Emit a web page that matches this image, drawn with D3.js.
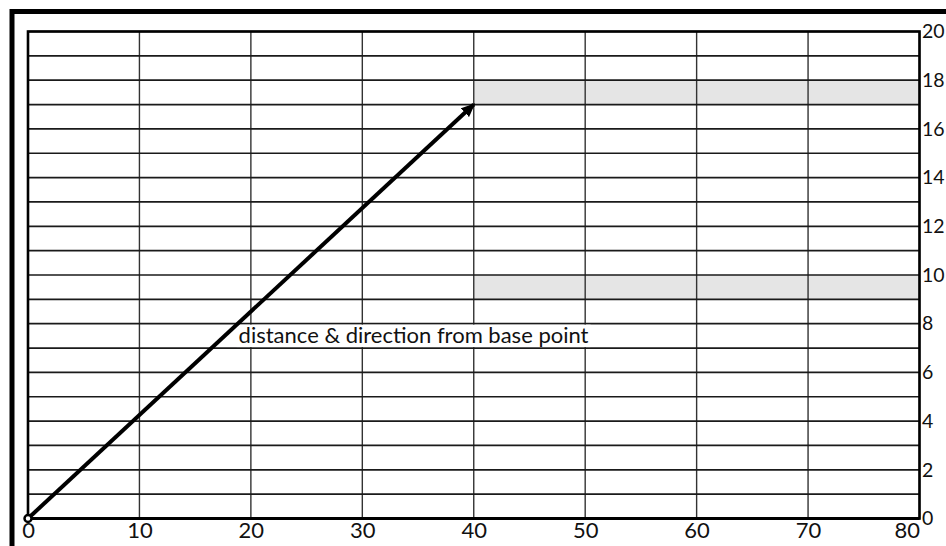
<!DOCTYPE html>
<html>
<head>
<meta charset="utf-8">
<script src="https://cdn.jsdelivr.net/npm/d3@7"></script>
<style>
  html, body { margin: 0; padding: 0; background: #fff; }
  svg { display: block; }
  text { font-family: Lato, "Open Sans", sans-serif; fill: #111; }
</style>
</head>
<body>
<svg id="chart" width="946" height="546"></svg>
<script>
// ---- data ----
const xTickValues = [0, 10, 20, 30, 40, 50, 60, 70, 80];
const yGridValues = [0, 1, 2, 3, 4, 5, 6, 7, 8, 9, 10, 11, 12, 13, 14, 15, 16, 17, 18, 19, 20];
const yTickValues = [0, 2, 4, 6, 8, 10, 12, 14, 16, 18, 20];
const bandStartX = [40, 40];
const bandEndX = [80, 80];
const bandLowY = [17, 9];
const bandHighY = [18, 10];
const arrowFrom = [0, 0];
const arrowTo = [40, 17];
const annotationText = "distance & direction from base point";
const annotationPos = [18.9, 7.2];

// ---- layout ----
const svg = d3.select("#chart");
const x = d3.scaleLinear().domain([0, 80]).range([28, 919.5]);
const y = d3.scaleLinear().domain([0, 20]).range([518.5, 31.5]);
const FS = 22;

// outer frame
svg.append("rect")
  .attr("x", 12).attr("y", 11.5)
  .attr("width", 1000).attr("height", 600)
  .attr("fill", "none").attr("stroke", "#000").attr("stroke-width", 5);

// gray bands
const bands = bandLowY.map((v, i) => ({x0: bandStartX[i], x1: bandEndX[i], y0: v, y1: bandHighY[i]}));
svg.append("g").selectAll("rect").data(bands).join("rect")
  .attr("x", d => x(d.x0)).attr("y", d => y(d.y1))
  .attr("width", d => x(d.x1) - x(d.x0)).attr("height", d => y(d.y0) - y(d.y1))
  .attr("fill", "#e5e5e5");

// grid
const grid = svg.append("g");
grid.selectAll("line.v").data(xTickValues).join("line")
  .attr("class", "v")
  .attr("x1", d => x(d)).attr("x2", d => x(d))
  .attr("y1", y(20)).attr("y2", y(0))
  .attr("stroke", "#333").attr("stroke-width", 1.4);
grid.selectAll("line.h").data(yGridValues).join("line")
  .attr("class", "h")
  .attr("x1", x(0)).attr("x2", x(80))
  .attr("y1", d => y(d)).attr("y2", d => y(d))
  .attr("stroke", "#1a1a1a").attr("stroke-width", 1.7);

// annotation (white backing hides vertical grid lines in its row)
const ann = svg.append("text")
  .attr("x", x(annotationPos[0])).attr("y", y(annotationPos[1]))
  .attr("font-size", FS)
  .text(annotationText);
const bb = ann.node().getBBox();
svg.insert("rect", "text")
  .attr("x", bb.x - 2).attr("y", y(8) + 1)
  .attr("width", bb.width + 4).attr("height", y(7) - y(8) - 2)
  .attr("fill", "#fff");

// plot border
svg.append("rect")
  .attr("x", x(0)).attr("y", y(20))
  .attr("width", x(80) - x(0)).attr("height", y(0) - y(20))
  .attr("fill", "none").attr("stroke", "#000").attr("stroke-width", 2.6);
svg.append("line")
  .attr("x1", x(0)).attr("x2", x(80)).attr("y1", y(0)).attr("y2", y(0))
  .attr("stroke", "#000").attr("stroke-width", 3);

// axes
const xAxis = svg.append("g")
  .attr("transform", `translate(0,${y(0)})`)
  .call(d3.axisBottom(x).tickValues(xTickValues).tickSize(0).tickPadding(4).tickFormat(d3.format("d")));
xAxis.select(".domain").remove();
xAxis.selectAll("text").attr("font-size", FS).attr("font-family", "Lato, sans-serif").attr("fill", "#111")
  .attr("text-anchor", d => d === 80 ? "end" : "middle");

const yAxis = svg.append("g")
  .attr("transform", `translate(${x(80)},0)`)
  .call(d3.axisRight(y).tickValues(yTickValues).tickSize(0).tickPadding(2.5).tickFormat(d3.format("d")));
yAxis.select(".domain").remove();
yAxis.selectAll("text").attr("font-size", 19.5).attr("font-family", "Lato, sans-serif").attr("fill", "#111");

// arrow
svg.append("defs").append("marker")
  .attr("id", "head")
  .attr("markerUnits", "userSpaceOnUse")
  .attr("viewBox", "0 0 14 12")
  .attr("refX", 12).attr("refY", 6)
  .attr("markerWidth", 14).attr("markerHeight", 12)
  .attr("orient", "auto")
  .append("path").attr("d", "M0,0 L14,6 L0,12 Z").attr("fill", "#000");

svg.append("line")
  .attr("x1", x(arrowFrom[0])).attr("y1", y(arrowFrom[1]))
  .attr("x2", x(arrowTo[0])).attr("y2", y(arrowTo[1]))
  .attr("stroke", "#000").attr("stroke-width", 4)
  .attr("marker-end", "url(#head)");

svg.append("circle")
  .attr("cx", x(arrowFrom[0])).attr("cy", y(arrowFrom[1]))
  .attr("r", 3.5)
  .attr("fill", "#fff").attr("stroke", "#000").attr("stroke-width", 2.5);
</script>
</body>
</html>
